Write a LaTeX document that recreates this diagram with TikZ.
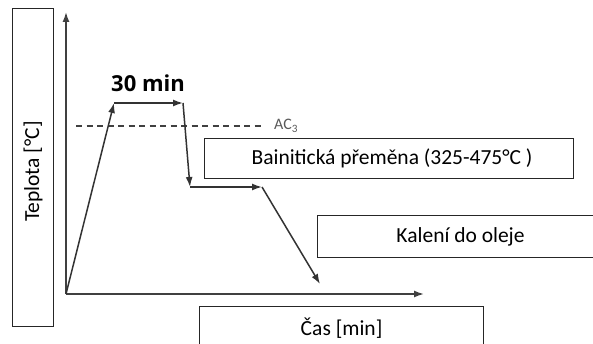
\documentclass[tikz,border=0pt]{standalone}
\usepackage{fontspec}
\setmainfont{Carlito}
\newfontfamily\holdfont{Open Sans}
\usetikzlibrary{arrows.meta}
\begin{document}
\begin{tikzpicture}[x=1pt,y=-1pt,
  curve/.style={draw=black!80,line width=1.5pt,-{Latex[length=10pt,width=7pt]}},
  axis/.style={draw=black!75,line width=1.6pt,-{Latex[length=10pt,width=7pt]}},
  labelbox/.style={draw=black!85,line width=1.1pt,inner sep=0pt,anchor=north west},
  boxtext/.style={font=\fontsize{21.5}{24}\selectfont}]
\useasboundingbox (0,0) rectangle (593,344);
\begin{scope}
\clip (0,0) rectangle (593,344);
% axis caption boxes
\node[labelbox,minimum width=41pt,minimum height=318pt] (tbox) at (12,8) {};
\node[boxtext,rotate=90] (tlabel) at ([yshift=-4pt]tbox.center) {Teplota [°C]};
\node[labelbox,minimum width=369pt,minimum height=40pt] (bbox) at (204,138) {};
\node[boxtext] (blabel) at ([xshift=3pt]bbox.center) {Bainitická přeměna (325-475°C )};
\node[labelbox,minimum width=290pt,minimum height=42pt] (kbox) at (317,215) {};
\node[boxtext] (klabel) at ([xshift=-2pt]kbox.center) {Kalení do oleje};
\node[labelbox,minimum width=284pt,minimum height=42pt] (cbox) at (199,306) {};
\node[boxtext] (clabel) at ([yshift=-1pt]cbox.center) {Čas [min]};
\end{scope}
% axes
\coordinate (o) at (66,294);
\coordinate (ytip) at (66,12);
\coordinate (xtip) at (424,294);
\draw[axis] (o) -- (ytip);
\draw[axis] (o) -- (xtip);
% AC3 line
\coordinate (d1) at (76,126);
\coordinate (d2) at (264,126);
\draw[black!75,line width=1.3pt,dash pattern=on 6pt off 4.5pt] (d1) -- (d2);
\node[anchor=west,text=black!65,font=\fontsize{16}{18}\selectfont,inner sep=0pt] (ac) at (274,126) {AC\textsubscript{3}};
% heat treatment curve
\coordinate (p1) at (114,103);
\coordinate (p2) at (183,103);
\coordinate (p3) at (190,187);
\coordinate (p4) at (262,187);
\coordinate (p5) at (320,284);
\draw[curve] (o) -- (p1);
\draw[curve] (p1) -- (p2);
\draw[curve] (p2) -- (p3);
\draw[curve] (p3) -- (p4);
\draw[curve] (p4) -- (p5);
\node[font=\holdfont\bfseries\fontsize{22}{24}\selectfont] (hold) at (148,83) {30 min};
\end{tikzpicture}
\end{document}
